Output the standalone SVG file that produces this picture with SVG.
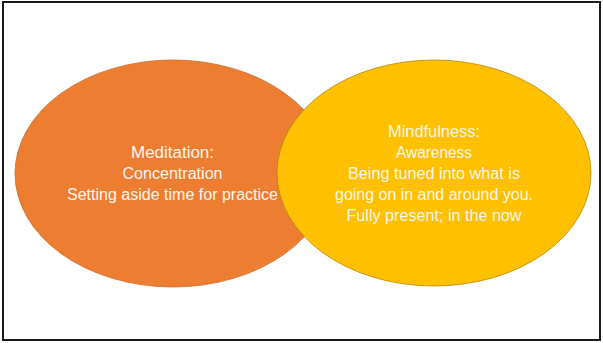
<svg xmlns="http://www.w3.org/2000/svg" width="603" height="343" viewBox="0 0 603 343">
  <style>
    .frame { fill: #ffffff; stroke: #1a1a1a; stroke-width: 2; }
    .lbl { font-family: "Liberation Sans", Arial, sans-serif; font-size: 16px; fill: #fdf6ee; text-anchor: middle; }
  </style>
  <rect class="frame" x="3" y="2" width="597" height="338"/>
  <g id="meditation">
    <ellipse cx="173" cy="173.5" rx="158" ry="113.5" fill="#ED7D31" stroke="#C9692A" stroke-width="0.8"/>
    <text class="lbl" x="172.5" y="158" textLength="83" lengthAdjust="spacingAndGlyphs">Meditation:</text>
    <text class="lbl" x="172.5" y="179" textLength="100" lengthAdjust="spacingAndGlyphs">Concentration</text>
    <text class="lbl" x="172.5" y="200" textLength="211" lengthAdjust="spacingAndGlyphs">Setting aside time for practice</text>
  </g>
  <g id="mindfulness">
    <ellipse cx="434" cy="173" rx="157" ry="113" fill="#FFC000" stroke="#B8860B" stroke-width="0.8"/>
    <text class="lbl" x="434" y="137" textLength="92" lengthAdjust="spacingAndGlyphs">Mindfulness:</text>
    <text class="lbl" x="434" y="158" textLength="76" lengthAdjust="spacingAndGlyphs">Awareness</text>
    <text class="lbl" x="434" y="179" textLength="172" lengthAdjust="spacingAndGlyphs">Being tuned into what is</text>
    <text class="lbl" x="434" y="200" textLength="198" lengthAdjust="spacingAndGlyphs">going on in and around you.</text>
    <text class="lbl" x="434" y="221" textLength="175" lengthAdjust="spacingAndGlyphs">Fully present; in the now</text>
  </g>
  <g id="connectors"/>
</svg>
